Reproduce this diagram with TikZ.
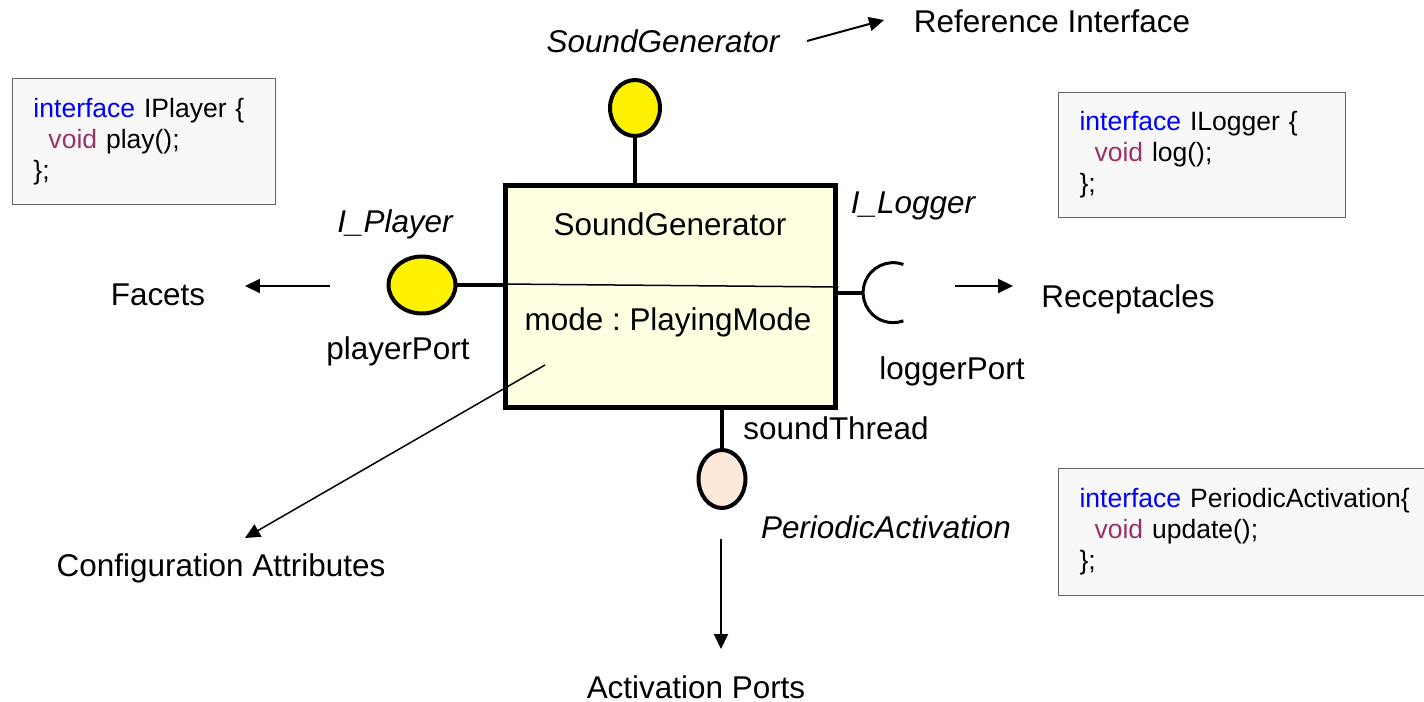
\documentclass[tikz,border=0pt]{standalone}
\usepackage{fontspec}
\setmainfont{Liberation Sans}
\frenchspacing
\usetikzlibrary{arrows.meta, positioning, shapes.geometric}
\definecolor{kwblue}{RGB}{0,0,255}
\definecolor{kwvoid}{RGB}{153,51,102}
\definecolor{compfill}{RGB}{255,255,225}
\definecolor{actfill}{RGB}{253,233,217}
\definecolor{codefill}{RGB}{248,248,248}
\definecolor{codeframe}{RGB}{100,100,100}

\begin{document}
\begin{tikzpicture}[x=0.02cm, y=-0.02cm,
    font=\fontsize{17.9}{21}\selectfont,
    lbl/.style={inner sep=0pt, anchor=base},
    ilbl/.style={lbl, font=\fontsize{17.9}{21}\selectfont\itshape},
    portline/.style={line width=0.08cm},
    iface/.style={draw, ellipse, line width=0.08cm, fill=yellow, inner sep=0pt},
    arr/.style={-{Triangle[length=0.3cm, width=0.28cm]}, line width=0.04cm},
    codebox/.style={draw=codeframe, fill=codefill, line width=0.02cm, anchor=north west, align=left,
      inner xsep=0.42cm, font=\fontsize{15.1}{17.6}\selectfont\frenchspacing},
    ]
    \useasboundingbox (0,0) rectangle (1424,702);

    % Component
    \node[draw, line width=0.1cm, fill=compfill, minimum width=6.62cm, minimum height=4.46cm, inner sep=0pt] (comp) at (670.5,296.5) {};
    \draw[line width=0.03cm] (comp.west |- 0,284) -- (comp.east |- 0,287);
    \node[lbl] (compname) at (670,236) {SoundGenerator};
    \node[lbl] (compattr) at (668,331) {mode : PlayingMode};

    % Reference interface (top)
    \node[iface, minimum width=1.0cm, minimum height=1.12cm] (refif) at (635,108) {};
    \draw[portline] (refif) -- (refif |- comp.north);
    \node[ilbl] (refname) at (663,53) {SoundGenerator};
    \node[lbl] (reflbl) at (1052,33) {Reference Interface};
    \coordinate (refA) at (807,41);
    \coordinate (refB) at (884,20);
    \draw[arr] (refA) -- (refB);

    % Facet
    \node[iface, minimum width=1.34cm, minimum height=1.14cm] (player) at (422,285) {};
    \draw[portline] (player) -- (comp.west |- player);
    \node[ilbl] (playername) at (395,233) {I\_Player};
    \node[lbl] (playerport) at (398,360) {playerPort};
    \node[lbl] (facets) at (158,306) {Facets};
    \coordinate (facA) at (330,286);
    \coordinate (facB) at (245,286);
    \draw[arr] (facA) -- (facB);

    % Receptacle
    \node[circle, minimum size=1.2cm, inner sep=0pt] (recp) at (893,293) {};
    \draw[portline] (comp.east |- recp) -- (recp.west);
    \draw[line width=0.06cm] (recp.70) arc[start angle=70, end angle=290, radius=0.6cm];
    \node[ilbl] (loggername) at (913,214) {I\_Logger};
    \node[lbl] (loggerport) at (952,380) {loggerPort};
    \node[lbl] (recplbl) at (1128,308) {Receptacles};
    \coordinate (recA) at (955,286);
    \coordinate (recB) at (1013,286);
    \draw[arr] (recA) -- (recB);

    % Activation port
    \node[iface, fill=actfill, minimum width=0.94cm, minimum height=1.16cm] (actport) at (722,479) {};
    \draw[portline] (comp.south -| actport) -- (actport);
    \node[lbl] (threadname) at (836,440) {soundThread};
    \node[ilbl] (actname) at (886,539) {PeriodicActivation};
    \node[lbl] (actlbl) at (696,698) {Activation Ports};
    \coordinate (actA) at (721,539);
    \coordinate (actB) at (721,649);
    \draw[arr] (actA) -- (actB);

    % Configuration attribute
    \node[lbl] (conflbl) at (221,577) {Configuration Attributes};
    \coordinate (confA) at (545,365);
    \coordinate (confB) at (245,538);
    \draw[arr, line width=0.03cm] (confA) -- (confB);

    % Interface definitions
    \node[codebox, text width=4.42cm, minimum height=2.52cm] (codeplayer) at (12,78)
      {{\color{kwblue}interface} IPlayer \{\\\hspace*{0.3cm}{\color{kwvoid}void} play();\\\};};
    \node[codebox, text width=4.90cm, minimum height=2.5cm] (codelogger) at (1058,92)
      {{\color{kwblue}interface} ILogger \{\\\hspace*{0.3cm}{\color{kwvoid}void} log();\\\};};
    \node[codebox, text width=7.2cm, minimum height=2.54cm] (codeact) at (1058,468)
      {{\color{kwblue}interface} PeriodicActivation\{\\\hspace*{0.3cm}{\color{kwvoid}void} update();\\\};};
\end{tikzpicture}
\end{document}
